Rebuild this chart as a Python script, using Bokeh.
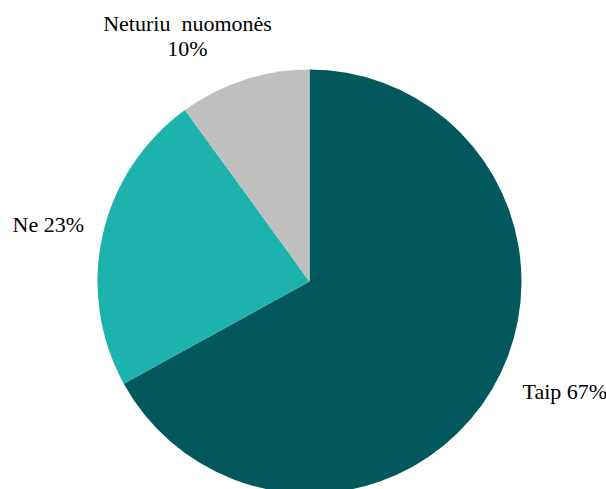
from math import pi
from bokeh.plotting import figure
from bokeh.models import Range1d, ColumnDataSource
from bokeh.core.properties import value
from bokeh.embed import file_html
from bokeh.resources import INLINE

categories = ["Taip", "Ne", "Neturiu nuomonės"]
shares = [67, 23, 10]
colors = ["#02585C", "#1DB2AE", "#BFBFBF"]

W, H = 606, 489
p = figure(width=W, height=H, output_backend="svg", toolbar_location=None,
           x_range=Range1d(0, W), y_range=Range1d(0, H),
           min_border=0, outline_line_color=None)
p.axis.visible = False
p.grid.visible = False

def Y(page_y):
    return H - page_y

cx, cy, r = 309, Y(281), 212
total = sum(shares)
starts, ends = [], []
a = pi / 2
for s in shares:
    starts.append(a)
    a = a - 2 * pi * s / total
    ends.append(a)

src = ColumnDataSource(dict(start=starts, end=ends, color=colors, cat=categories))
p.wedge(x=cx, y=cy, radius=r, start_angle="start", end_angle="end",
        direction="clock", fill_color="color", line_color=None, source=src)

font = value("Liberation Serif")
labels = ["Taip 67%", "Ne 23%", "Neturiu\u00a0 nuomonės", "10%"]
lx = [522, 12, 187, 187]
ly = [Y(391), Y(224), Y(23), Y(48)]
align = ["left", "left", "center", "center"]
p.text(x=lx, y=ly, text=labels, text_align=align, text_baseline="middle",
       text_font=font, text_font_size="22px", text_color="#000000")

open("out.html", "w").write(file_html(p, INLINE))
